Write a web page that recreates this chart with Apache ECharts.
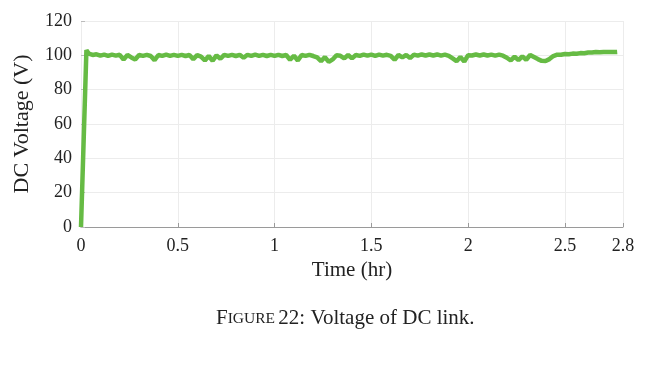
<!DOCTYPE html>
<html>
<head>
<meta charset="utf-8">
<script src="https://cdn.jsdelivr.net/npm/echarts@6/dist/echarts.min.js"></script>
<style>html,body{margin:0;padding:0;background:#fff;}#c{width:649px;height:388px;}</style>
</head>
<body>
<div id="c"></div>
<script>
var xTicks = [0, 0.5, 1, 1.5, 2, 2.5, 2.8];
var yTicks = [0, 20, 40, 60, 80, 100, 120];
var timeHr = [0, 0.028, 0.04, 0.06, 0.08, 0.10, 0.12, 0.14, 0.16, 0.18, 0.20, 0.22, 0.24, 0.26, 0.28, 0.30, 0.32, 0.34, 0.36, 0.38, 0.40, 0.42, 0.44, 0.46, 0.48, 0.50, 0.52, 0.54, 0.56, 0.58, 0.60, 0.62, 0.64, 0.66, 0.68, 0.70, 0.72, 0.74, 0.76, 0.78, 0.80, 0.82, 0.84, 0.86, 0.88, 0.90, 0.92, 0.94, 0.96, 0.98, 1.00, 1.02, 1.04, 1.06, 1.08, 1.10, 1.12, 1.14, 1.16, 1.18, 1.20, 1.22, 1.24, 1.26, 1.28, 1.30, 1.32, 1.34, 1.36, 1.38, 1.40, 1.42, 1.44, 1.46, 1.48, 1.50, 1.52, 1.54, 1.56, 1.58, 1.60, 1.62, 1.64, 1.66, 1.68, 1.70, 1.72, 1.74, 1.76, 1.78, 1.80, 1.82, 1.84, 1.86, 1.88, 1.90, 1.92, 1.94, 1.96, 1.98, 2.00, 2.02, 2.04, 2.06, 2.08, 2.10, 2.12, 2.14, 2.16, 2.18, 2.20, 2.22, 2.24, 2.26, 2.28, 2.30, 2.32, 2.34, 2.36, 2.38, 2.40, 2.42, 2.44, 2.46, 2.48, 2.50, 2.52, 2.54, 2.56, 2.58, 2.60, 2.62, 2.64, 2.66, 2.68, 2.70, 2.72, 2.74, 2.76, 2.77];
var voltageV = [0, 103, 101.0, 100.2, 100.6, 99.8, 100.4, 99.7, 100.4, 99.8, 100.3, 97.6, 100.2, 98.8, 97.6, 100.2, 99.7, 100.3, 99.6, 97.2, 100.2, 99.7, 100.4, 99.7, 100.3, 99.7, 100.3, 99.6, 100.2, 97.8, 100.1, 99.2, 97.0, 99.6, 96.8, 100.0, 98.0, 100.3, 99.7, 100.3, 99.6, 100.3, 98.6, 100.3, 99.7, 100.4, 99.7, 100.3, 99.6, 100.3, 99.7, 100.3, 99.6, 100.2, 97.4, 99.8, 97.0, 100.2, 99.7, 100.3, 99.6, 98.8, 96.6, 99.0, 96.2, 97.6, 100.0, 99.7, 98.2, 100.2, 98.2, 100.2, 99.7, 100.4, 99.8, 100.4, 99.7, 100.4, 99.8, 100.3, 99.7, 97.4, 100.2, 98.8, 100.2, 98.4, 100.4, 99.8, 100.5, 99.9, 100.5, 99.9, 100.5, 99.8, 100.4, 99.7, 98.2, 96.6, 99.0, 96.4, 100.1, 99.9, 100.5, 99.9, 100.5, 99.9, 100.4, 99.8, 100.4, 99.8, 98.6, 97.0, 99.2, 97.2, 99.4, 97.4, 100.2, 99.0, 97.8, 96.8, 96.7, 97.8, 99.6, 100.4, 100.3, 100.8, 100.6, 101.0, 100.9, 101.3, 101.2, 101.6, 101.6, 101.9, 101.8, 102.0, 101.9, 102.0, 101.9, 102.0];

var seriesData = timeHr.map(function (t, i) { return [t, voltageV[i]]; });
var serif = '"Liberation Serif", "DejaVu Serif", serif';

var chart = echarts.init(document.getElementById('c'));
chart.setOption({
  animation: false,
  backgroundColor: '#ffffff',
  grid: { left: 81, right: 26, top: 21, bottom: 161 },
  xAxis: {
    type: 'value', min: 0, max: 2.8,
    name: 'Time (hr)', nameLocation: 'middle', nameGap: 31,
    nameTextStyle: { fontFamily: serif, fontSize: 21, color: '#222' },
    axisLine: { show: true, lineStyle: { color: '#9a9a9a', width: 1 } },
    axisTick: { show: true, inside: true, length: 4, lineStyle: { color: '#9a9a9a' },
      customValues: xTicks },
    axisLabel: { fontFamily: serif, fontSize: 18, color: '#222', margin: 10,
      customValues: xTicks, formatter: function (v) { return String(v); } },
    splitLine: { show: true, lineStyle: { color: '#ececec', width: 1 } }
  },
  yAxis: {
    type: 'value', min: 0, max: 120, interval: 20,
    name: 'DC Voltage (V)', nameLocation: 'middle', nameGap: 48,
    nameTextStyle: { fontFamily: serif, fontSize: 22, color: '#222' },
    axisLine: { show: false },
    axisTick: { show: true, inside: true, length: 4, lineStyle: { color: '#bbbbbb' } },
    axisLabel: { fontFamily: serif, fontSize: 18, color: '#222', margin: 9 },
    splitLine: { show: true, lineStyle: { color: '#ececec', width: 1 } }
  },
  series: [{
    type: 'line', data: seriesData, showSymbol: false, symbol: 'none',
    lineStyle: { color: '#66bb44', width: 4.5 },
    itemStyle: { color: '#66bb44' }
  }],
  graphic: [{
    type: 'text', left: 216, top: 308,
    style: {
      text: '{a|F}{b|IGURE} {a|22: Voltage of DC link.}',
      rich: {
        a: { fontFamily: serif, fontSize: 21, fill: '#222' },
        b: { fontFamily: serif, fontSize: 15.5, fill: '#222' }
      }
    }
  }]
});
</script>
</body>
</html>
